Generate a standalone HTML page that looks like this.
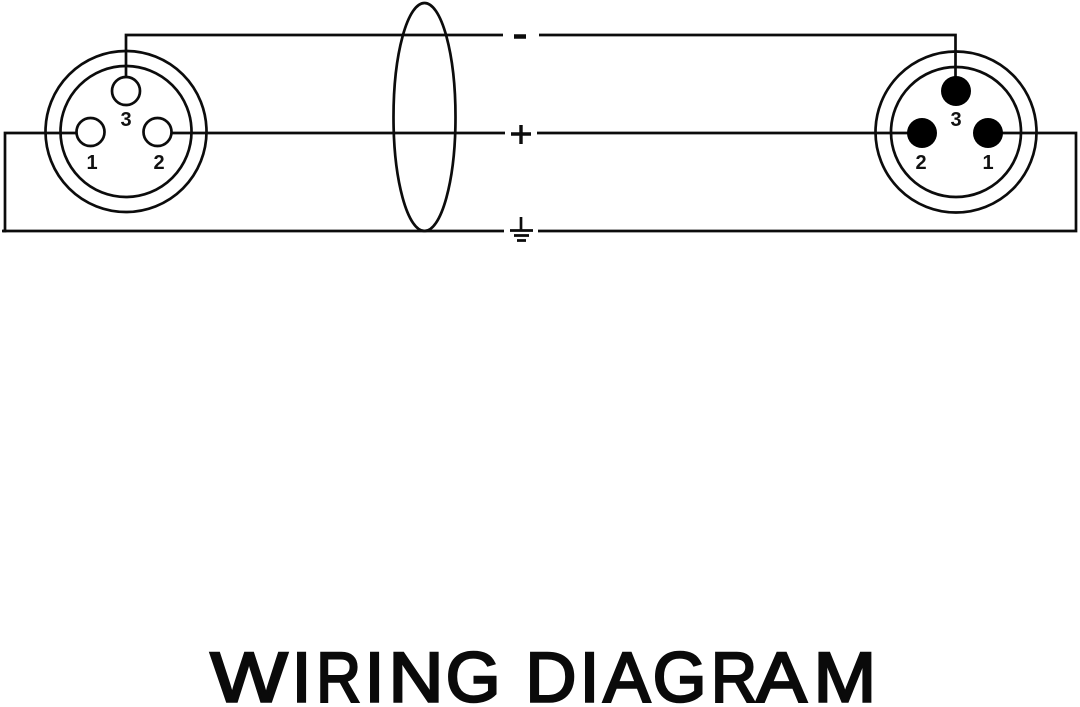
<!DOCTYPE html>
<html>
<head>
<meta charset="utf-8">
<style>
html,body{margin:0;padding:0;background:#fff;width:1080px;height:707px;overflow:hidden}
svg{display:block}
.n{font:bold 20px "Liberation Sans",sans-serif;fill:#111;text-anchor:middle}
.t{font:normal 70.5px "Liberation Sans",sans-serif;fill:#0a0a0a;stroke:#0a0a0a;stroke-width:2.5px;stroke-linejoin:miter}
</style>
</head>
<body>
<svg width="1080" height="707" viewBox="0 0 1080 707" xmlns="http://www.w3.org/2000/svg">
<g fill="none" stroke="#0c0c0c" stroke-width="2.7">
  <path d="M126 77V35H503M539 35H955.500V77"/>
  <path d="M76 133H5V231H2M171 133H505M537 133H908"/>
  <path d="M1002 133H1076V231H538M504 231H3"/>
  <circle cx="126" cy="131.500" r="80.500"/>
  <circle cx="126" cy="131.500" r="65.500"/>
  <circle cx="126" cy="91" r="14"/>
  <circle cx="90.500" cy="132" r="14"/>
  <circle cx="157.500" cy="132" r="14"/>
  <circle cx="956" cy="132" r="80.500"/>
  <circle cx="956" cy="132" r="65"/>
  <ellipse cx="424.500" cy="117" rx="31" ry="114"/>
</g>
<g fill="#000">
  <circle cx="956" cy="91" r="15"/>
  <circle cx="922" cy="133" r="15"/>
  <circle cx="988" cy="133" r="15"/>
</g>
<g fill="none" stroke="#0c0c0c">
  <path d="M514 36.500H526" stroke-width="4.500"/>
  <path d="M511 134H531M521 125V144" stroke-width="3.400"/>
  <path d="M521 217V230" stroke-width="2.700"/>
  <path d="M510 230.500H533M514 235.500H529M517 240.500H526" stroke-width="2.700"/>
</g>
<text class="n" x="126" y="126">3</text>
<text class="n" x="92" y="169">1</text>
<text class="n" x="159" y="169">2</text>
<text class="n" x="956" y="126">3</text>
<text class="n" x="921" y="169">2</text>
<text class="n" x="988" y="169">1</text>
<text class="t" x="210.400" y="701.500" textLength="77.200" lengthAdjust="spacingAndGlyphs">W</text>
<text class="t" x="291.700" y="701.500" textLength="19.600" lengthAdjust="spacingAndGlyphs">I</text>
<text class="t" x="316.200" y="701.500" textLength="44.800" lengthAdjust="spacingAndGlyphs">R</text>
<text class="t" x="364.700" y="701.500" textLength="19.600" lengthAdjust="spacingAndGlyphs">I</text>
<text class="t" x="388.500" y="701.500" textLength="55" lengthAdjust="spacingAndGlyphs">N</text>
<text class="t" x="445.700" y="701.500" textLength="54.800" lengthAdjust="spacingAndGlyphs">G</text>
<text class="t" x="525.500" y="701.500" textLength="50.900" lengthAdjust="spacingAndGlyphs">D</text>
<text class="t" x="579.700" y="701.500" textLength="19.600" lengthAdjust="spacingAndGlyphs">I</text>
<text class="t" x="603.250" y="701.500" textLength="47" lengthAdjust="spacingAndGlyphs">A</text>
<text class="t" x="652.800" y="701.500" textLength="53.700" lengthAdjust="spacingAndGlyphs">G</text>
<text class="t" x="711" y="701.500" textLength="46.100" lengthAdjust="spacingAndGlyphs">R</text>
<text class="t" x="756.250" y="701.500" textLength="50.400" lengthAdjust="spacingAndGlyphs">A</text>
<text class="t" x="813.700" y="701.500" textLength="62.600" lengthAdjust="spacingAndGlyphs">M</text>
</svg>
</body>
</html>
